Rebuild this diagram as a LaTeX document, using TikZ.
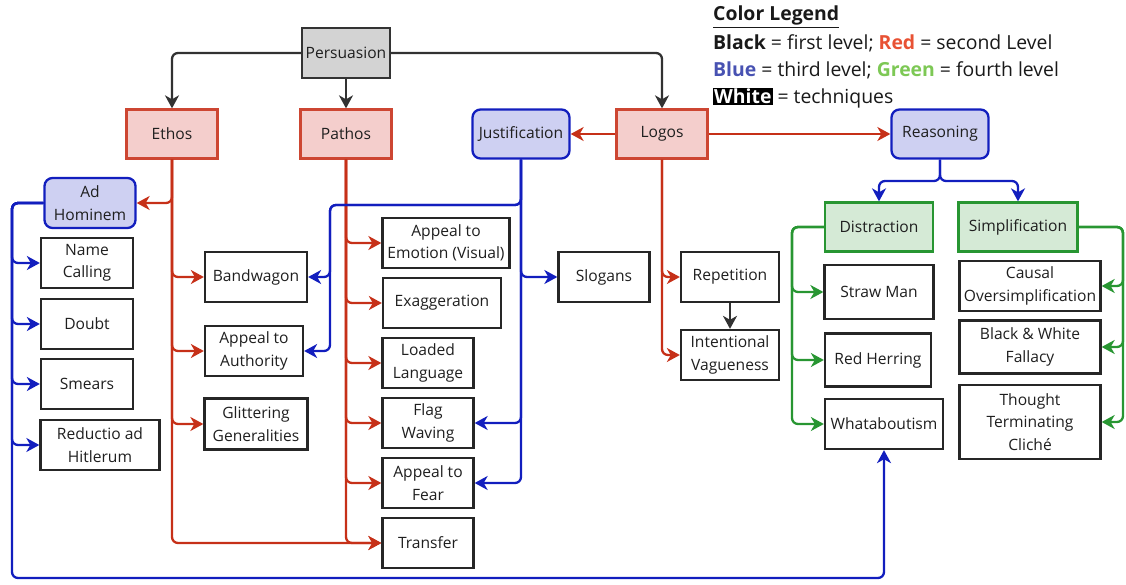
\documentclass[tikz,border=0pt]{standalone}
\usepackage{fontspec}
\setmainfont{Open Sans}
\usetikzlibrary{arrows.meta}
\definecolor{redE}{RGB}{198,48,24}
\definecolor{redB}{RGB}{205,70,50}
\definecolor{blueE}{RGB}{18,30,190}
\definecolor{greenE}{RGB}{40,150,50}
\definecolor{darkE}{RGB}{50,50,50}
\definecolor{pinkF}{RGB}{244,206,204}
\definecolor{blueF}{RGB}{206,208,242}
\definecolor{greenF}{RGB}{213,234,214}
\definecolor{grayF}{RGB}{211,211,211}
\definecolor{legRed}{RGB}{232,82,52}
\definecolor{legBlue}{RGB}{72,82,178}
\definecolor{legGreen}{RGB}{125,200,85}
\tikzset{
  base/.style={draw, line width=2.3pt, align=center, inner sep=1pt,
    font=\fontsize{15.6}{22.5}\selectfont, text=black!88},
  tech/.style={base, draw=black!85, fill=white},
  lvlA/.style={base, draw=black!80, fill=grayF},
  lvlB/.style={base, draw=redB, fill=pinkF},
  lvlC/.style={base, draw=blueE, fill=blueF, rounded corners=8pt},
  lvlD/.style={base, draw=greenE, fill=greenF},
  con/.style={line width=2.3pt, rounded corners=6pt, -{Stealth[length=13pt,width=14pt,inset=4pt]}},
  kline/.style={con, draw=darkE},
  rline/.style={con, draw=redE},
  bline/.style={con, draw=blueE},
  gline/.style={con, draw=greenE},
  legend/.style={anchor=base west, inner sep=0pt, font=\fontsize{19.4}{23}\selectfont, text=black!90}
}
\begin{document}
\begin{tikzpicture}[x=1pt,y=-1pt]
\useasboundingbox (0,0) rectangle (1126,585);
% legend
\node[legend] (lg0) at (713,21) {\underline{\textbf{Color Legend}}};
\node[legend] (lg1) at (713,50) {\textbf{Black} = first level; \textcolor{legRed}{\textbf{Red}} = second Level};
\node[legend] (lg2) at (713,77) {\textcolor{legBlue}{\textbf{Blue}} = third level; \textcolor{legGreen}{\textbf{Green}} = fourth level};
\node[legend] (lg3) at (713,104) {{\setlength{\fboxsep}{1pt}\colorbox{black}{\textcolor{white}{\textbf{White}}}} = techniques};
% level nodes
\node[lvlA, minimum width=88, minimum height=50] (pers) at (346,53) {Persuasion};
\node[lvlB, minimum width=91, minimum height=49] (ethos) at (172,134) {Ethos};
\node[lvlB, minimum width=91, minimum height=49] (pathos) at (346,134) {Pathos};
\node[lvlC, minimum width=97, minimum height=49] (just) at (521,134) {Justification};
\node[lvlB, minimum width=91, minimum height=49] (logos) at (662,134) {Logos};
\node[lvlC, minimum width=97, minimum height=49] (reas) at (940,134) {Reasoning};
\node[lvlC, minimum width=91, minimum height=50] (adh) at (90,203) {Ad\\Hominem};
\node[lvlD, minimum width=108, minimum height=49] (dist) at (879,227) {Distraction};
\node[lvlD, minimum width=119, minimum height=49] (simp) at (1018,227) {Simplification};
% techniques
\node[tech, minimum width=92, minimum height=50] (nc) at (87,263) {Name\\Calling};
\node[tech, minimum width=92, minimum height=50] (doubt) at (87,324) {Doubt};
\node[tech, minimum width=92, minimum height=50] (smears) at (87,384) {Smears};
\node[tech, minimum width=119, minimum height=50] (redu) at (100,445) {Reductio ad\\Hitlerum};
\node[tech, minimum width=102, minimum height=50] (band) at (256,277) {Bandwagon};
\node[tech, minimum width=98, minimum height=50] (auth) at (254,351) {Appeal to\\Authority};
\node[tech, minimum width=103, minimum height=51] (glit) at (256,424) {Glittering\\Generalities};
\node[tech, minimum width=127, minimum height=50] (aev) at (446,243) {Appeal to\\Emotion (Visual)};
\node[tech, minimum width=118, minimum height=50] (exag) at (442,303) {Exaggeration};
\node[tech, minimum width=91, minimum height=50] (load) at (428,363) {Loaded\\Language};
\node[tech, minimum width=91, minimum height=50] (flag) at (428,423) {Flag\\Waving};
\node[tech, minimum width=91, minimum height=50] (fear) at (428,483) {Appeal to\\Fear};
\node[tech, minimum width=91, minimum height=50] (trans) at (428,543) {Transfer};
\node[tech, minimum width=91, minimum height=50] (slog) at (604,277) {Slogans};
\node[tech, minimum width=98, minimum height=50] (rep) at (730,277) {Repetition};
\node[tech, minimum width=98, minimum height=50] (iv) at (730,355) {Intentional\\Vagueness};
\node[tech, minimum width=109, minimum height=54] (straw) at (879,292) {Straw Man};
\node[tech, minimum width=106, minimum height=53] (rh) at (878,360) {Red Herring};
\node[tech, minimum width=118, minimum height=50] (what) at (884,424) {Whataboutism};
\node[tech, minimum width=141, minimum height=50] (causal) at (1030,286) {Causal\\Oversimplification};
\node[tech, minimum width=141, minimum height=53] (bw) at (1030,347) {Black \& White\\Fallacy};
\node[tech, minimum width=141, minimum height=74] (tt) at (1030,422) {Thought\\Terminating\\Cliché};
% coordinates
\coordinate (jb) at (330,205);
\coordinate (adl) at (12,203);
\coordinate (adb) at (884,578);
\coordinate (rs) at (940,181);
\coordinate (dl) at (792,227);
\coordinate (sr) at (1123,227);
% black
\draw[kline] (pers.west) -| (ethos.north);
\draw[kline] (pers.south) -- (pathos.north);
\draw[kline] (pers.east) -| (logos.north);
\draw[kline] (rep.south) -- (iv.north);
% red
\draw[rline] (logos.west) -- (just.east);
\draw[rline] (logos.east) -- (reas.west);
\draw[rline] (ethos.south) |- (adh.east);
\draw[rline] (ethos.south) |- (band.west);
\draw[rline] (ethos.south) |- (auth.west);
\draw[rline] (ethos.south) |- (glit.west);
\draw[rline] (ethos.south) |- (trans.west);
\draw[rline] (pathos.south) |- (aev.west);
\draw[rline] (pathos.south) |- (exag.west);
\draw[rline] (pathos.south) |- (load.west);
\draw[rline] (pathos.south) |- (flag.west);
\draw[rline] (pathos.south) |- (fear.west);
\draw[rline] (pathos.south) |- (trans.west);
\draw[rline] (logos.south) |- (rep.west);
\draw[rline] (logos.south) |- (iv.west);
% blue
\draw[bline] (just.south) |- (jb) |- (band.east);
\draw[bline] (just.south) |- (jb) |- (auth.east);
\draw[bline] (just.south) |- (slog.west);
\draw[bline] (just.south) |- (flag.east);
\draw[bline] (just.south) |- (fear.east);
\draw[bline] (adh.west) -- (adl) |- (nc.west);
\draw[bline] (adh.west) -- (adl) |- (doubt.west);
\draw[bline] (adh.west) -- (adl) |- (smears.west);
\draw[bline] (adh.west) -- (adl) |- (redu.west);
\draw[bline] (adh.west) -- (adl) |- (adb) -- (what.south);
\draw[bline] (reas.south) -- (rs) -| (dist.north);
\draw[bline] (reas.south) -- (rs) -| (simp.north);
% green
\draw[gline] (dist.west) -- (dl) |- (straw.west);
\draw[gline] (dist.west) -- (dl) |- (rh.west);
\draw[gline] (dist.west) -- (dl) |- (what.west);
\draw[gline] (simp.east) -- (sr) |- (causal.east);
\draw[gline] (simp.east) -- (sr) |- (bw.east);
\draw[gline] (simp.east) -- (sr) |- (tt.east);
\end{tikzpicture}
\end{document}
